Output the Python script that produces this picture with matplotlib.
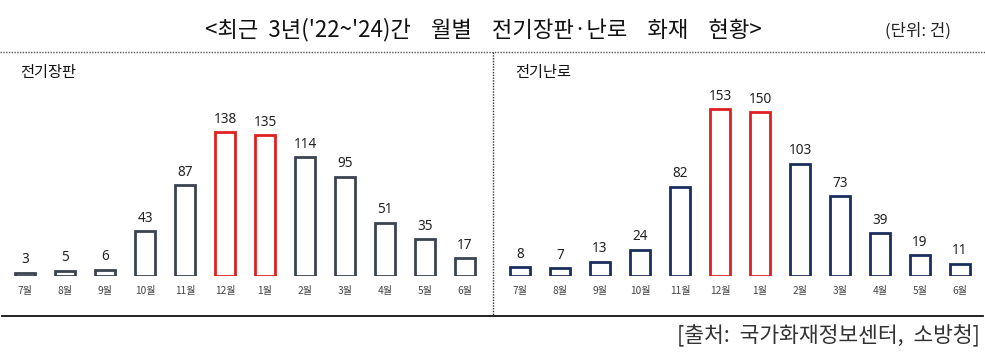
import matplotlib
matplotlib.use("Agg")
import matplotlib.pyplot as plt
from matplotlib.lines import Line2D

plt.rcParams['font.family'] = ['Noto Sans CJK KR', 'DejaVu Sans']

months = ['7월', '8월', '9월', '10월', '11월', '12월', '1월', '2월', '3월', '4월', '5월', '6월']
mat_values = [3, 5, 6, 43, 87, 138, 135, 114, 95, 51, 35, 17]
heater_values = [8, 7, 13, 24, 82, 153, 150, 103, 73, 39, 19, 11]
highlight = ['12월', '1월']

title = "<최근  3년('22~'24)간    월별    전기장판·난로    화재    현황>"
unit = "(단위: 건)"
source = "[출처:  국가화재정보센터,  소방청]"
panel_titles = ['전기장판', '전기난로']

W, H = 985, 357
fig = plt.figure(figsize=(W / 100, H / 100), dpi=100)

RED = '#E02020'
colors_base = ['#3A4350', '#1B2F5E']

def fx(px):
    return px / W

def fy(py):
    return 1 - py / H

bottom_px = 276
specs = [
    (5, 485, 160 * 1.043, 160),
    (500, 980, 160 * 1.09, 160),
]
data = [mat_values, heater_values]

for k, (x0, x1, hpx, ymax) in enumerate(specs):
    ax = fig.add_axes([fx(x0), fy(bottom_px), fx(x1 - x0), hpx / H])
    vals = data[k]
    ecs = [RED if m in highlight else colors_base[k] for m in months]
    xs = list(range(len(months)))
    ax.bar(xs, vals, width=0.5, facecolor='white', edgecolor=ecs, linewidth=2.0)
    for x, v in zip(xs, vals):
        ax.annotate(str(v), (x, v), xytext=(0, 4), textcoords='offset points',
                    ha='center', va='bottom', fontsize=9.8, color='#222222',
                    family=['Noto Sans', 'DejaVu Sans'])
    ax.set_xlim(-0.5, 11.5)
    ax.set_ylim(0, ymax)
    ax.set_xticks(xs)
    ax.set_xticklabels(months, fontsize=7.3, color='#444444')
    ax.tick_params(axis='x', length=0, pad=7)
    ax.set_yticks([])
    for s in ax.spines.values():
        s.set_visible(False)
    ax.patch.set_alpha(0)

# panel titles
fig.text(fx(20), fy(73), panel_titles[0], fontsize=11, ha='left', va='center', color='#111111')
fig.text(fx(515), fy(73), panel_titles[1], fontsize=11, ha='left', va='center', color='#111111')

# title and unit
fig.text(fx(483), fy(30), title, fontsize=16, ha='center', va='center', color='#111111')
fig.text(fx(918), fy(31), unit, fontsize=12, ha='center', va='center', color='#222222')

# source
fig.text(fx(980), fy(336), source, fontsize=15.5, ha='right', va='center', color='#333333')

# lines
fig.add_artist(Line2D([0, 1], [fy(52), fy(52)], transform=fig.transFigure,
                      color='#555555', linewidth=1.0, linestyle=(0, (1, 1))))
fig.add_artist(Line2D([fx(493), fx(493)], [fy(52), fy(316)], transform=fig.transFigure,
                      color='#333333', linewidth=1.0, linestyle=(0, (1, 1))))
fig.add_artist(Line2D([fx(2), fx(983)], [fy(316), fy(316)], transform=fig.transFigure,
                      color='#111111', linewidth=1.3))

fig.savefig('out.png', dpi=100, facecolor='white')
